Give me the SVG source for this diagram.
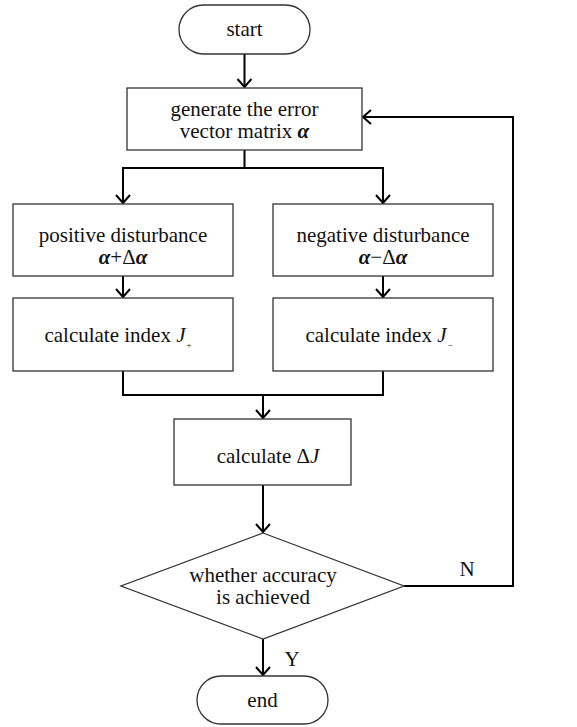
<svg xmlns="http://www.w3.org/2000/svg" width="577" height="727" viewBox="0 0 577 727">
<style>
.n{fill:#fff;stroke:#333;stroke-width:1.3}
.c{fill:none;stroke:#000;stroke-width:2}
text{font-family:"Liberation Serif","DejaVu Serif",serif;font-size:21px;fill:#111;text-anchor:middle}
.i{font-style:italic}
.b{font-style:italic;font-weight:bold}
</style>
<defs>
<marker id="a" viewBox="-2 -2 13 18" refX="8" refY="7" markerWidth="13" markerHeight="18" markerUnits="userSpaceOnUse" orient="auto" overflow="visible">
<path d="M0,0 L8,7 L0,14" fill="none" stroke="#000" stroke-width="2"/>
</marker>
</defs>
<g id="connectors">
<path class="c" d="M244.5,54 V87" marker-end="url(#a)"/>
<path class="c" d="M244.5,150 V168 M123,168 H383"/>
<path class="c" d="M123,167 V203" marker-end="url(#a)"/>
<path class="c" d="M383,167 V203" marker-end="url(#a)"/>
<path class="c" d="M123,276 V297" marker-end="url(#a)"/>
<path class="c" d="M383,276 V297" marker-end="url(#a)"/>
<path class="c" d="M123,371 V395 H383 V371"/>
<path class="c" d="M263,395 V418" marker-end="url(#a)"/>
<path class="c" d="M263,485 V532" marker-end="url(#a)"/>
<path class="c" d="M404,586 H513 V117 H363" marker-end="url(#a)"/>
<path class="c" d="M263,639 V675" marker-end="url(#a)"/>
<text x="467" y="576">N</text>
<text x="292" y="666">Y</text>
</g>
<g id="start">
<rect class="n" x="179" y="5" width="131" height="49" rx="24.5"/>
<text x="244.5" y="36">start</text>
</g>
<g id="generate">
<rect class="n" x="127" y="88" width="235" height="62"/>
<text x="244.5" y="116">generate the error</text>
<text x="244.5" y="138">vector matrix <tspan class="b">α</tspan></text>
</g>
<g id="positive">
<rect class="n" x="13" y="204" width="220" height="72"/>
<text x="123" y="242">positive disturbance</text>
<text x="123" y="264"><tspan class="b">α</tspan>+Δ<tspan class="b">α</tspan></text>
</g>
<g id="negative">
<rect class="n" x="273" y="204" width="220" height="72"/>
<text x="383" y="242">negative disturbance</text>
<text x="383" y="264"><tspan class="b">α</tspan>−Δ<tspan class="b">α</tspan></text>
</g>
<g id="jplus">
<rect class="n" x="13" y="298" width="220" height="73"/>
<text x="118" y="342">calculate index <tspan class="i">J</tspan><tspan font-size="9" dx="1" dy="6">+</tspan></text>
</g>
<g id="jminus">
<rect class="n" x="273" y="298" width="220" height="73"/>
<text x="379" y="342">calculate index <tspan class="i">J</tspan><tspan font-size="9" dx="1" dy="6">−</tspan></text>
</g>
<g id="deltaJ">
<rect class="n" x="174" y="419" width="177" height="66"/>
<text x="268" y="463">calculate Δ<tspan class="i">J</tspan></text>
</g>
<g id="decision">
<polygon class="n" points="263,533 404,586 263,639 121,586"/>
<text x="263" y="582">whether accuracy</text>
<text x="263" y="604">is achieved</text>
</g>
<g id="end">
<rect class="n" x="197" y="676" width="131" height="48" rx="24"/>
<text x="262.5" y="707">end</text>
</g>
</svg>
